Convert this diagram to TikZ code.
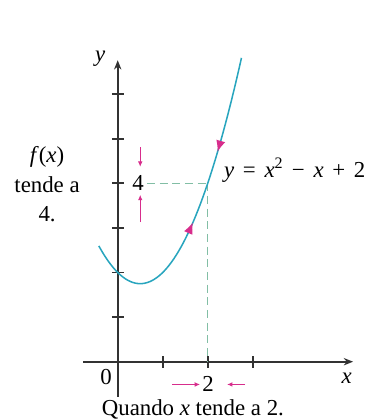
\documentclass[tikz,border=0pt]{standalone}
\usepackage{fontspec}
\setmainfont{Liberation Serif}
\usetikzlibrary{positioning,arrows.meta,decorations.markings}
\definecolor{fcyan}{RGB}{40,165,190}
\definecolor{fmag}{RGB}{215,45,140}
\definecolor{fdash}{RGB}{130,190,165}
\definecolor{axgray}{RGB}{50,50,50}
\newcommand{\gap}{\hspace{0.38em}}
\tikzset{
  axis/.style={-{Stealth[length=2.8mm,width=2.2mm]},line width=1.5pt,axgray},
  tk/.style={line width=1.5pt,axgray},
  fcurve/.style={line width=1.3pt,fcyan,postaction={decorate},decoration={markings,
    mark=at position 0.454 with {\arrow{Latex[length=3.4mm,width=2.8mm,color=fmag]}},
    mark=at position 0.692 with {\arrowreversed{Latex[length=3.4mm,width=2.8mm,color=fmag]}}}},
  dline/.style={dash pattern=on 2.4mm off 1.4mm,line width=0.9pt,fdash},
  appr/.style={-{Latex[length=1.6mm,width=1.4mm]},line width=0.8pt,fmag},
  lbl/.style={font=\fontsize{19.5}{25}\selectfont,inner sep=0pt},
}
\begin{document}
\begin{tikzpicture}[x=1.35cm,y=1.338cm]
  \useasboundingbox (-2.616,-1.307) rectangle (5.629,8.110);
  % axes
  \coordinate (xs) at (-0.77,0);
  \coordinate (xe) at (5.23,0);
  \coordinate (ys) at (0,-0.79);
  \coordinate (ye) at (0,6.76);
  \draw[axis] (xs) -- (xe);
  \draw[axis] (ys) -- (ye);
  \foreach \i in {1,2,3} \draw[tk] (\i,-0.13) -- (\i,0.13);
  \foreach \i in {1,...,6} \draw[tk] (-0.13,\i) -- (0.13,\i);
  % guide lines to (2,4)
  \coordinate (P) at (2,4);
  \coordinate (P4) at (0.65,4);
  \coordinate (P2) at (2,0);
  \draw[dline] (P4) -- (P);
  \draw[dline] (P) -- (P2);
  \draw[fcurve] plot[domain=-0.42:2.75,samples=60] (\x,{(\x)*(\x)-(\x)+2});
  \node[lbl] (ylab) at (-0.39,6.80) {\textit{y}};
  \node[lbl] (xlab) at (5.09,-0.37) {\textit{x}};
  \node[lbl] (zero) at (-0.26,-0.34) {0};
  \node[lbl] (four) at (0.45,4) {4};
  \node[lbl] (two) at (2.01,-0.49) {2};
  \node[lbl,anchor=base west] (eq) at (2.36,4.14)
    {\textit{y}\gap=\gap\textit{x}\textsuperscript{2}\gap−\gap\textit{x}\gap+\gap2};
  \node[lbl,align=center] (fx) at (-1.57,3.98) {\textit{f}(\textit{x})\\tende a\\4.};
  \node[lbl] (qd) at (1.67,-1.07) {Quando \textit{x} tende a 2.};
  % approach arrows
  \coordinate (a1) at (0.5,4.81);
  \coordinate (a2) at (0.5,4.37);
  \coordinate (a3) at (0.5,3.13);
  \coordinate (a4) at (0.5,3.74);
  \coordinate (b1) at (1.21,-0.51);
  \coordinate (b2) at (1.83,-0.51);
  \coordinate (b3) at (2.83,-0.51);
  \coordinate (b4) at (2.43,-0.51);
  \draw[appr] (a1) -- (a2);
  \draw[appr] (a3) -- (a4);
  \draw[appr] (b1) -- (b2);
  \draw[appr] (b3) -- (b4);
\end{tikzpicture}
\end{document}
